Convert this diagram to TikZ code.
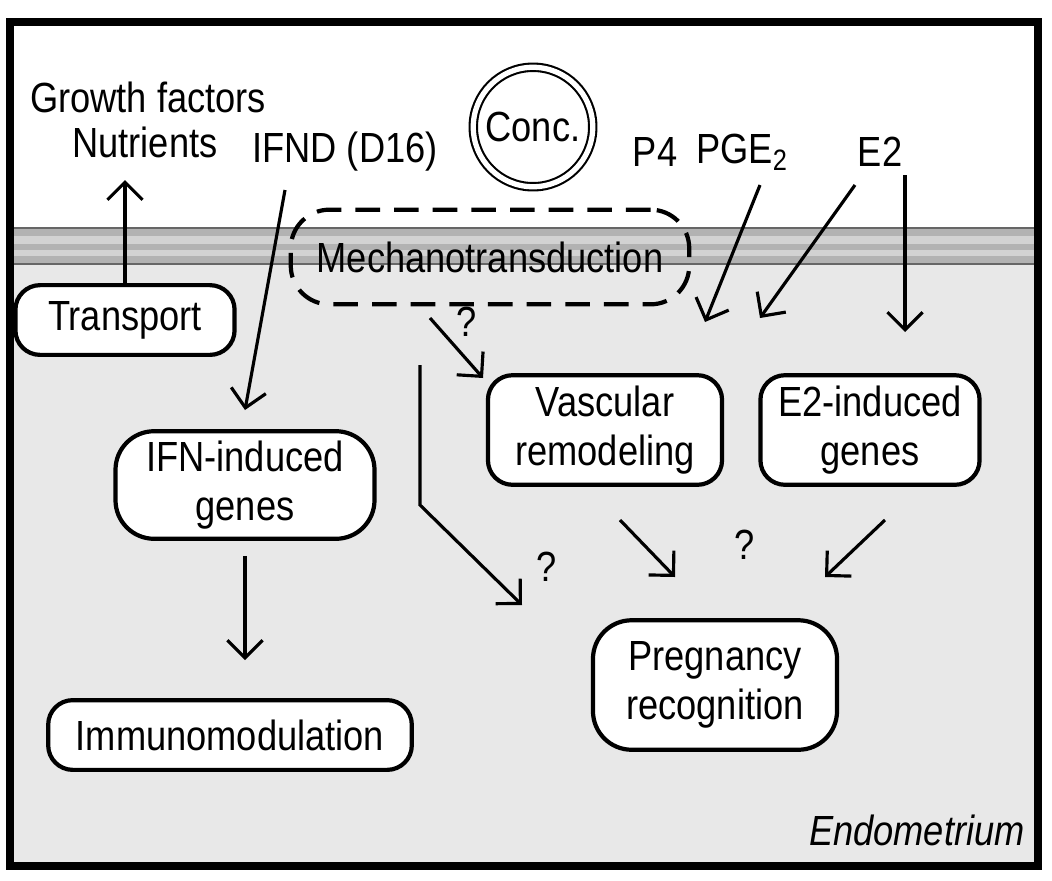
\documentclass[tikz,border=0pt]{standalone}
\usepackage{fontspec}
\setmainfont[FakeStretch=0.86]{Liberation Sans}
\usetikzlibrary{arrows.meta}
\begin{document}
\begin{tikzpicture}[x=0.02cm,y=-0.02cm,
  box/.style={draw,line width=2.4pt,rounded corners=14pt,fill=white,align=center,inner sep=0pt},
  arr/.style={line width=1.8pt,-{Straight Barb[length=10pt,width=20pt,line width=1.8pt]}},
  lbl/.style={inner sep=0pt}]
\useasboundingbox (0,0) rectangle (1052,880);
\fill[white] (0,0) rectangle (1052,880);
\fill[gray!18] (10,245) rectangle (1038,866);
\fill[gray!60] (10,228) rectangle (1038,264);
\fill[gray!35] (10,236) rectangle (1038,244);
\fill[gray!35] (10,250) rectangle (1038,256);
\draw[gray!80!black,line width=1pt] (10,228) -- (1038,228) (10,264) -- (1038,264);
\draw[line width=4pt] (10,22) rectangle (1038,866);
\tikzset{every node/.append style={font=\fontsize{24}{28}\selectfont}}
\node[lbl] (gf) at (148,97) {Growth factors};
\node[lbl] (nu) at (145,142) {Nutrients};
\node[lbl] (ifnd) at (345,152) {IFND (D16)};
\node[lbl] (p4) at (655,152) {P4};
\node[lbl] (pge) at (742,152) {PGE\textsubscript{2}};
\node[lbl] (e2) at (880,152) {E2};
\node[draw,circle,double,double distance=3pt,line width=1.2pt,minimum size=68pt,inner sep=0pt] (conc) at (533,127) {};
\node[lbl] at (conc) {Conc.};
\node[box,dashed,dash pattern=on 14pt off 8pt,fill=none,minimum width=400*0.567pt,minimum height=95*0.567pt,rounded corners=22pt] (mech) at (490,257) {Mechanotransduction};
\node[box,minimum width=220*0.567pt,minimum height=70*0.567pt] (tr) at (125,320) {Transport};
\node[box,minimum width=260*0.567pt,minimum height=108*0.567pt,rounded corners=22pt] (ifn) at (245,485) {IFN-induced\\genes};
\node[box,minimum width=365*0.567pt,minimum height=70*0.567pt] (imm) at (230,735) {Immunomodulation};
\node[box,minimum width=235*0.567pt,minimum height=110*0.567pt] (vas) at (605,430) {Vascular\\remodeling};
\node[box,minimum width=220*0.567pt,minimum height=110*0.567pt] (e2g) at (870,430) {E2-induced\\genes};
\node[box,minimum width=245*0.567pt,minimum height=130*0.567pt,rounded corners=22pt] (preg) at (715,685) {Pregnancy\\recognition};
\node[lbl,anchor=east] at (1025,830) {\itshape Endometrium};
\node[lbl] at (467,322) {?};
\node[lbl] at (547,567) {?};
\node[lbl] at (745,545) {?};
\coordinate (a1) at (285,190); \coordinate (a2) at (245,410);
\coordinate (q1) at (430,318); \coordinate (q2) at (483,378);
\coordinate (b1) at (420,365); \coordinate (b2) at (420,505); \coordinate (b3) at (522,605);
\coordinate (p1) at (760,185); \coordinate (p2) at (705,322);
\coordinate (g1) at (855,185); \coordinate (g2) at (760,318);
\coordinate (e1) at (905,175); \coordinate (e3) at (905,332);
\coordinate (v1) at (620,520); \coordinate (v2) at (675,577);
\coordinate (w1) at (885,520); \coordinate (w2) at (825,577);
\draw[arr] (tr.north) -- (125,180);
\draw[arr] (a1) -- (a2);
\draw[arr] (ifn.south) ++(0,15) -- (245,660);
\draw[arr] (q1) -- (q2);
\draw[arr] (b1) -- (b2) -- (b3);
\draw[arr] (p1) -- (p2);
\draw[arr] (g1) -- (g2);
\draw[arr] (e1) -- (e3);
\draw[arr] (v1) -- (v2);
\draw[arr] (w1) -- (w2);
\end{tikzpicture}
\end{document}
